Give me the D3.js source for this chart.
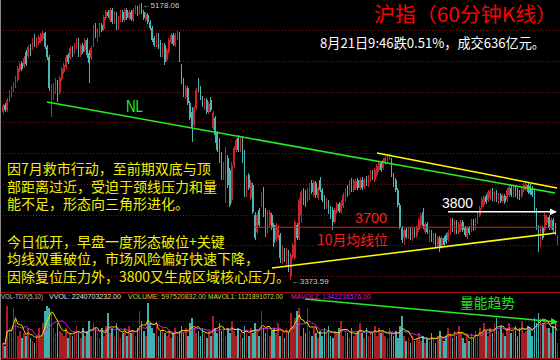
<!DOCTYPE html>
<html><head><meta charset="utf-8">
<script src="https://cdn.jsdelivr.net/npm/d3@7"></script>
<style>html,body{margin:0;padding:0;background:#000;overflow:hidden}</style>
</head><body><svg id="c" width="560" height="360"></svg>
<script>
// ---- data (沪指 60分钟K线) ----
const opens = [4468,4514,4481,4546,4579,4611,4637,4676,4742,4787,
4767,4859,4833,4898,4878,4963,4898,4917,4930,4943,
4983,4891,4826,4546,4566,4598,4663,4598,4683,4729,
4761,4839,4820,4885,4859,4891,4937,4839,4904,4872,
4937,4852,4820,4904,5015,4937,4970,5035,5009,5080,
5119,5067,5133,5054,5106,5015,5067,5119,5067,5133,
5080,5119,5067,5119,5146,5113,5152,5119,5067,5100,
5054,5015,4950,4904,4970,4924,4839,4904,4807,4859,
4924,4970,4904,4950,4976,4767,4676,4566,4624,4527,
4468,4383,4494,4663,4624,4559,4494,4546,4468,4546,
4364,4429,4331,4286,4188,4038,3927,4168,4090,3895,
4123,4220,4298,4220,4298,4188,3927,4058,3908,3992,
3797,3686,3830,3862,3960,3830,3686,3732,3797,3732,
3634,3647,3667,3491,3569,3471,3556,3400,3523,3517,
3732,3647,3797,3960,3947,3895,3908,4005,3927,4005,
3908,4025,3960,3914,3849,3882,3843,3830,3751,3817,
3869,3817,3856,3895,3973,3940,4025,3960,3973,4025,
3973,4025,3979,4038,3992,4025,4077,4025,4058,4090,
4136,4103,4136,4155,4168,4155,4058,4025,3960,3862,
3712,3647,3699,3654,3706,3647,3699,3660,3699,3732,
3817,3686,3738,3634,3686,3621,3667,3595,3647,3589,
3647,3667,3634,3680,3764,3686,3751,3686,3699,3751,
3712,3654,3712,3699,3758,3712,3751,3797,3849,3862,
3921,3895,3908,3960,3895,3947,3882,3927,3888,3921,
3895,3927,3973,3921,3979,3960,3947,3921,3960,3966,
3992,3986,3973,3947,3830,3719,3602,3712,3699,3745,
3784,3712,3764,3732,3615];
const closes = [4507,4481,4546,4592,4624,4650,4689,4754,4780,4748,
4820,4780,4891,4846,4937,4904,4943,4956,4976,4983,
4891,4826,4624,4637,4637,4676,4553,4689,4748,4774,
4826,4794,4885,4839,4904,4937,4839,4898,4859,4937,
4839,4787,4885,5015,4963,5002,5035,5002,5087,5119,
5093,5133,5054,5113,5022,5080,5119,5067,5133,5080,
5119,5074,5133,5152,5106,5152,5119,5080,5106,5054,
5015,4937,4904,4970,4891,4839,4904,4794,4872,4937,
4970,4911,4970,4983,4820,4663,4579,4624,4527,4429,
4364,4494,4611,4611,4559,4514,4546,4468,4520,4481,
4462,4318,4220,4155,4058,4123,4207,3992,3862,4123,
4233,4286,4220,4298,4155,3927,4038,3973,4012,3817,
3647,3797,3732,3934,3797,3667,3817,3817,3712,3615,
3732,3719,3517,3582,3504,3569,3452,3536,3602,3751,
3647,3895,3947,3875,3862,3960,3992,3947,4012,3927,
3973,3960,3895,3849,3895,3817,3784,3751,3830,3869,
3823,3875,3927,3960,3927,4012,3960,4018,4018,3973,
4025,3973,4025,3999,4045,4077,4038,4090,4116,4136,
4090,4155,4168,4181,4175,4058,3992,3960,3862,3719,
3634,3699,3654,3706,3647,3699,3660,3712,3764,3797,
3725,3738,3686,3693,3634,3667,3602,3647,3589,3647,
3602,3621,3686,3764,3699,3751,3686,3738,3751,3699,
3667,3712,3680,3758,3706,3764,3810,3843,3901,3914,
3882,3947,3953,3901,3940,3895,3927,3888,3921,3882,
3960,3979,3927,3973,3927,3914,3908,3966,3992,3999,
3947,3940,3927,3830,3745,3602,3712,3647,3797,3784,
3712,3764,3699,3680,3654];
const highs = [4520,4527,4559,4611,4637,4663,4703,4767,4794,4800,
4833,4872,4904,4911,4950,4976,4956,4970,4983,4996,
4989,4904,4839,4650,4657,4689,4676,4703,4761,4787,
4839,4852,4898,4898,4917,4950,4950,4911,4917,4950,
4950,4872,4898,5035,5048,5015,5048,5048,5100,5133,
5133,5146,5146,5126,5119,5093,5133,5133,5146,5146,
5133,5133,5146,5165,5159,5172,5178.06,5133,5119,5113,
5067,5028,4963,4983,4983,4937,4917,4917,4885,4950,
4983,4983,4983,4996,4989,4780,4689,4644,4637,4540,
4501,4507,4624,4689,4637,4572,4559,4559,4533,4566,
4475,4442,4344,4298,4207,4142,4240,4188,4103,4142,
4246,4298,4318,4312,4312,4220,4058,4071,4025,4005,
3817,3810,3843,3947,3979,3843,3830,3830,3810,3745,
3745,3732,3680,3595,3582,3582,3569,3549,3615,3764,
3745,3908,3960,3973,3960,3973,4005,4025,4025,4018,
3986,4045,3973,3927,3908,3895,3856,3849,3843,3882,
3882,3895,3940,3973,3992,4025,4038,4032,4032,4038,
4038,4045,4038,4051,4058,4090,4090,4103,4129,4149,
4149,4168,4181,4188,4194,4168,4071,4038,3973,3875,
3725,3712,3712,3719,3719,3712,3712,3725,3777,3810,
3843,3751,3751,3706,3699,3680,3680,3660,3660,3660,
3660,3680,3699,3777,3777,3764,3764,3751,3764,3764,
3725,3725,3725,3771,3771,3777,3823,3856,3914,3927,
3934,3960,3966,3973,3953,3960,3940,3940,3934,3934,
3973,3992,3986,3986,3992,3973,3960,3979,4005,4012,
4005,3999,3986,3960,3843,3732,3725,3725,3810,3797,
3797,3777,3777,3745,3667];
const lows = [4455,4468,4468,4533,4566,4598,4624,4663,4729,4735,
4754,4767,4820,4833,4872,4891,4885,4904,4917,4930,
4878,4807,4605,4436,4546,4585,4533,4579,4670,4716,
4748,4780,4807,4826,4846,4878,4826,4826,4846,4859,
4820,4657,4807,4891,4950,4924,4956,4989,4996,5067,
5080,5054,5041,5041,5002,5002,5054,5054,5054,5067,
5067,5061,5054,5106,5093,5100,5106,5067,5054,5041,
5002,4924,4891,4891,4878,4826,4826,4774,4794,4846,
4911,4898,4891,4937,4794,4650,4566,4553,4514,4416,
4273,4370,4481,4598,4546,4501,4481,4455,4455,4468,
4351,4266,4207,4136,4025,4025,3875,3973,3849,3875,
4103,4207,4207,4207,4136,3914,3914,3960,3895,3803,
3634,3673,3719,3849,3784,3654,3673,3719,3699,3589,
3621,3634,3484,3478,3491,3458,3426,3373.59,3510,3504,
3634,3634,3745,3862,3849,3882,3895,3934,3914,3908,
3895,3947,3882,3836,3836,3803,3771,3699,3738,3803,
3810,3803,3843,3882,3914,3927,3947,3947,3960,3960,
3960,3960,3966,3986,3979,4012,4025,4012,4045,4077,
4077,4090,4123,4142,4155,4045,3979,3947,3849,3706,
3615,3602,3641,3641,3634,3628,3647,3647,3686,3719,
3706,3673,3673,3621,3621,3608,3589,3582,3556,3576,
3589,3608,3621,3667,3686,3673,3673,3673,3686,3686,
3654,3641,3667,3686,3693,3699,3738,3784,3836,3849,
3869,3882,3895,3888,3882,3882,3869,3875,3875,3869,
3882,3914,3914,3908,3914,3901,3895,3908,3947,3953,
3934,3927,3914,3810,3699,3556,3589,3634,3686,3732,
3699,3699,3680,3667,3602];
// volume in 亿股 (1e8)
const volumes = [6,5,21,12,10,20,17,9,11,8,
10,9,12,8,7,6,9,12,8,14,
19,21,20,18,12,10,14,11,10,9,
12,8,10,9,11,13,10,8,12,9,
11,15,9,14,12,10,8,12,9,13,
18,10,12,9,14,11,8,10,12,9,
13,10,11,9,12,19,15,11,9,22,
14,12,10,13,9,11,12,10,9,11,
8,10,12,9,11,13,10,12,9,14,
16,12,10,11,9,12,10,8,11,9,
17,12,10,14,11,13,9,12,10,15,
11,9,12,10,8,13,11,9,12,10,
14,11,9,19,12,10,13,9,11,12,
10,14,9,11,8,12,10,18,13,16,
19,20,9,12,10,20,11,9,12,10,
8,11,9,12,10,13,9,8,11,10,
12,15,9,11,10,8,12,9,10,11,
14,10,8,12,9,11,10,13,9,12,
10,11,9,8,12,10,9,11,8,13,
17,9,7,8,6,9,7,8,10,7,
9,6,8,7,10,8,6,9,11,8,
7,9,12,10,8,11,9,13,10,8,
6,9,7,10,8,11,9,12,10,14,
11,9,12,10,14,16,11,13,10,9,
12,14,10,11,13,9,12,15,10,11,
13,12,9,16,14,18,16,14,15,12,
12,10,13,14,5.98];
const priceGrid = [5000,4800,4600,4400,4200,4000,3800,3600,3400];
const volGrid = [7.5,15];
const volMax = 22.40703232;
const extremes = [{index:66, value:5178.06, text:"5178.06"},{index:137, value:3373.59, text:"3373.59"}];
const trendNL = [[20.95,4533],[262.9,3940]];
const trendUpper = [[178.1,4201],[263.8,3973]];
const trendLower = [[128.1,3452],[263.3,3680]];
const line3700 = [[119.5,3717],[263.8,3717]];
const line3800 = [[211.9,3818],[263.3,3818]];
const volTrend = [[143.8,23.6],[263.8,14.4]];
const titleText = "沪指（60分钟K线）";
const subText = "8月21日9:46跌0.51%，成交636亿元。";
const para1 = ["因7月救市行动，至前期双底与顶","部距离过近，受迫于颈线压力和量","能不足，形态向三角形进化。"];
const para2 = ["今日低开，早盘一度形态破位+关键","均线双重破位，市场风险偏好快速下降，","因除复位压力外，3800又生成区域核心压力。"];
const legendTexts = ["VOL-TDX(5,10)","VVOL: 2240703232.00","VOLUME: 597520832.00","MAVOL1: 1121891072.00","MAVOL2: 1342216576.00"];

// ---- drawing ----
const svg = d3.select("#c");
svg.append("rect").attr("width",560).attr("height",360).attr("fill","#000");
const n = closes.length;
const x = d3.scaleLinear().domain([0, n-1]).range([3, 557.4]);
const y = d3.scaleLinear().domain([3373.59, 5178.06]).range([280, 3]);
const vy = d3.scaleLinear().domain([0, volMax]).range([358, 302]);
const RED = "#c4262b", CYAN = "#48b6b6";
const col = i => closes[i] >= opens[i] ? RED : CYAN;

const defs = svg.append("defs");
function marker(id, color){
  defs.append("marker").attr("id",id).attr("viewBox","0 0 8 8").attr("refX",7).attr("refY",4)
    .attr("markerWidth",7).attr("markerHeight",7).attr("markerUnits","userSpaceOnUse").attr("orient","auto")
    .append("path").attr("d","M0,0 L8,4 L0,8 Z").attr("fill",color);
}
marker("aw","#ffffff"); marker("ag","#22ee22");

// grid
svg.append("g").selectAll("line").data(priceGrid).join("line")
  .attr("x1",0).attr("x2",560).attr("y1",d=>Math.round(y(d))+0.5).attr("y2",d=>Math.round(y(d))+0.5)
  .attr("stroke","#8a0e0e").attr("stroke-dasharray","1,2");
svg.append("g").selectAll("line").data(volGrid).join("line")
  .attr("x1",0).attr("x2",560).attr("y1",d=>Math.round(vy(d))+0.5).attr("y2",d=>Math.round(vy(d))+0.5)
  .attr("stroke","#8a0e0e").attr("stroke-dasharray","1,2");
svg.append("line").attr("x1",0).attr("x2",560).attr("y1",292.5).attr("y2",292.5).attr("stroke","#a01010");
svg.append("line").attr("x1",0).attr("x2",560).attr("y1",358.5).attr("y2",358.5).attr("stroke","#a01010");
svg.append("line").attr("x1",0.5).attr("x2",0.5).attr("y1",0).attr("y2",360).attr("stroke","#888");

// candles
const idx = d3.range(n);
const cg = svg.append("g").attr("shape-rendering","crispEdges");
cg.selectAll("line").data(idx).join("line")
  .attr("x1",i=>x(i)).attr("x2",i=>x(i)).attr("y1",i=>y(highs[i])).attr("y2",i=>y(lows[i]))
  .attr("stroke",col).attr("stroke-width",1);
cg.selectAll("rect").data(idx).join("rect")
  .attr("x",i=>x(i)-0.8).attr("width",1.6)
  .attr("y",i=>y(Math.max(opens[i],closes[i])))
  .attr("height",i=>Math.max(1, Math.abs(y(opens[i])-y(closes[i]))))
  .attr("fill",col);

// volume bars
svg.append("g").attr("shape-rendering","crispEdges").selectAll("rect").data(idx).join("rect")
  .attr("x",i=>x(i)-0.8).attr("width",1.6)
  .attr("y",i=>vy(volumes[i])).attr("height",i=>vy(0)-vy(volumes[i]))
  .attr("fill",i=> closes[i] >= opens[i] ? "#a81e22" : "#3fb0b0");
function ma(k){ return volumes.map((v,i)=> d3.mean(volumes.slice(Math.max(0,i-k+1), i+1))); }
const ma5 = ma(5), ma10 = ma(10);
const vline = d3.line().x((d,i)=>x(i)).y(d=>vy(d));
svg.append("path").attr("d",vline(ma10)).attr("fill","none").attr("stroke","#e020e0").attr("stroke-width",1);
svg.append("path").attr("d",vline(ma5)).attr("fill","none").attr("stroke","#e0e000").attr("stroke-width",1);

// annotation lines
const pl = d3.line().x(d=>x(d[0])).y(d=>y(d[1]));
svg.append("path").attr("d",pl(trendNL)).attr("stroke","#22ee22").attr("stroke-width",1.6).attr("fill","none");
svg.append("path").attr("d",pl(trendUpper)).attr("stroke","#ffff00").attr("stroke-width",1.5).attr("fill","none");
svg.append("path").attr("d",pl(trendLower)).attr("stroke","#ffff00").attr("stroke-width",1.5).attr("fill","none");
svg.append("path").attr("d",pl(line3700)).attr("stroke","#ff1010").attr("stroke-width",1).attr("fill","none");
svg.append("path").attr("d",pl(line3800)).attr("stroke","#ffffff").attr("stroke-width",1.5).attr("fill","none").attr("marker-end","url(#aw)");
const vl = d3.line().x(d=>x(d[0])).y(d=>vy(d[1]));
svg.append("path").attr("d",vl(volTrend)).attr("stroke","#22ee22").attr("stroke-width",1.5).attr("fill","none").attr("marker-end","url(#ag)");

// extreme labels
const cjk = "'Noto Sans CJK SC','Noto Sans',sans-serif";
const lat = "'Liberation Sans',Arial,sans-serif";
extremes.forEach(e=>{
  const px = x(e.index), py = y(e.value);
  svg.append("text").attr("x",px+1).attr("y",py+ (e.index===66?5:4)).attr("font-family",lat).attr("font-size",8)
    .attr("fill","#c8c8c8").text("←"+e.text);
});

// texts
function txt(s, tx, ty, size, color, len, fam){
  const t = svg.append("text").attr("x",tx).attr("y",ty).attr("font-family",fam||cjk).attr("font-size",size).attr("fill",color).text(s);
  if(len) t.attr("textLength",len).attr("lengthAdjust","spacingAndGlyphs");
  return t;
}
function para(lines, tx, ys, size, color){
  const t = svg.append("text").attr("font-family",cjk).attr("font-size",size).attr("fill",color);
  lines.forEach((s,k)=> t.append("tspan").attr("x",tx).attr("y",ys[k]).text(s));
}
txt(titleText, 374, 22, 20, "#ff0000", 183);
txt(subText, 320, 48, 13.5, "#ffffff", 225);
const YEL = "#f0f000";
para(para1, 7, [174,192,209], 14, YEL);
para(para2, 7, [247,264,282], 14, YEL);
txt("NL", 126, 112, 16, "#22ee22", 17, lat);
txt("3800", 442, 208, 14.5, "#ffffff", 31, lat);
txt("3700", 355, 223, 15, "#ff1a1a", 32, lat);
txt("10月均线位", 317, 245, 14, "#ff1a1a", 71);
txt("量能趋势", 460, 308, 14, "#22e022", 55);

// volume legend
const legX = [1,49,128,208,291], legW = [42,72,78,75,80];
const legC = ["#c8c8c8","#e0e0e0","#c8c850","#d8d840","#d020d0"];
legendTexts.forEach((s,k)=> txt(s, legX[k], 298.5, 7, legC[k], legW[k], lat));
</script></body></html>
